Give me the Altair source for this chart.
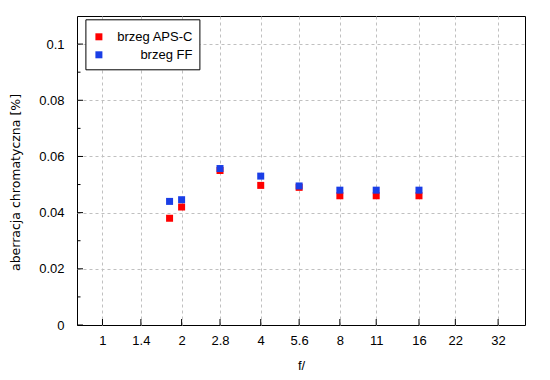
import altair as alt
import pandas as pd

# --- data ---
f_stops = [1.8, 2, 2.8, 4, 5.6, 8, 11, 16]
aps_c = [0.038, 0.042, 0.055, 0.0497, 0.049, 0.046, 0.046, 0.046]
ff = [0.044, 0.0446, 0.0557, 0.053, 0.0495, 0.048, 0.048, 0.048]
series_names = ["brzeg APS-C", "brzeg FF"]
series_colors = ["#ff0000", "#1a3ee6"]
x_ticks = [1, 1.4, 2, 2.8, 4, 5.6, 8, 11, 16, 22, 32]
y_ticks = [0, 0.02, 0.04, 0.06, 0.08, 0.1]
y_minor = [0.01, 0.03, 0.05, 0.07, 0.09]

rows = []
for name, vals in zip(series_names, [aps_c, ff]):
    for f, v in zip(f_stops, vals):
        rows.append({"f": f, "v": v, "seria": name, "o": series_names.index(name)})
df = pd.DataFrame(rows)

W, H = 448, 309
FONT = "Liberation Sans"

xscale = alt.Scale(type="log", domain=[0.8, 40.5], nice=False)
yscale = alt.Scale(domain=[0, 0.11], nice=False, zero=False)

xaxis = alt.Axis(title="f/", values=x_ticks, format="~g", labelPadding=9, titlePadding=12,
                 labelFlush=False, labelOverlap=False, grid=True)
yaxis = alt.Axis(title="aberracja chromatyczna [%]", values=y_ticks, format="~g",
                 labelPadding=13, titleX=-61.5, titleY=166, titleBaseline="middle",
                 titleFont="DejaVu Sans", titleFontSize=12.5,
                 grid=True,
                 gridOpacity={"condition": {"test": "datum.value == 0", "value": 0}, "value": 1})

points = alt.Chart(df).mark_square(size=49, opacity=1, filled=True).encode(
    x=alt.X("f:Q", scale=xscale, axis=xaxis),
    y=alt.Y("v:Q", scale=yscale, axis=yaxis),
    color=alt.Color("seria:N", scale=alt.Scale(domain=series_names, range=series_colors),
                    legend=alt.Legend(title=" ", titleFontSize=1, titlePadding=3,
                                      orient="none", legendX=8.4, legendY=3.3,
                                      strokeColor="black", fillColor="white", padding=7,
                                      symbolType="square", symbolSize=49, symbolStrokeWidth=0,
                                      labelAlign="right", labelOffset=87, rowPadding=4,
                                      labelFontSize=13, labelFont=FONT, labelColor="black")),
    order=alt.Order("o:Q"),
)

xt = alt.Chart(pd.DataFrame({"f": x_ticks})).mark_rule(color="black").encode(
    x=alt.X("f:Q", scale=xscale, axis=xaxis), y=alt.value(H), y2=alt.value(H - 6))
ytm = alt.Chart(pd.DataFrame({"v": y_ticks})).mark_rule(color="black").encode(
    y=alt.Y("v:Q", scale=yscale, axis=yaxis), x=alt.value(0), x2=alt.value(6))
ytn = alt.Chart(pd.DataFrame({"v": y_minor})).mark_rule(color="black").encode(
    y=alt.Y("v:Q", scale=yscale, axis=yaxis), x=alt.value(0), x2=alt.value(3.5))

chart = alt.layer(points, xt, ytm, ytn).properties(
    width=W, height=H,
    autosize=alt.AutoSizeParams(type="none"),
    padding={"left": 69, "top": 8, "right": 17, "bottom": 47},
).configure_view(stroke="black", strokeWidth=1).configure_axis(
    labelFont=FONT, titleFont=FONT, labelFontSize=13, titleFontSize=13,
    labelColor="black", titleColor="black", titleFontWeight="normal",
    domain=False, ticks=False, gridColor="#c0c0c0", gridDash=[3, 3], gridWidth=1,
)

chart.save("out.html", embed_options={"renderer": "svg", "actions": False})
